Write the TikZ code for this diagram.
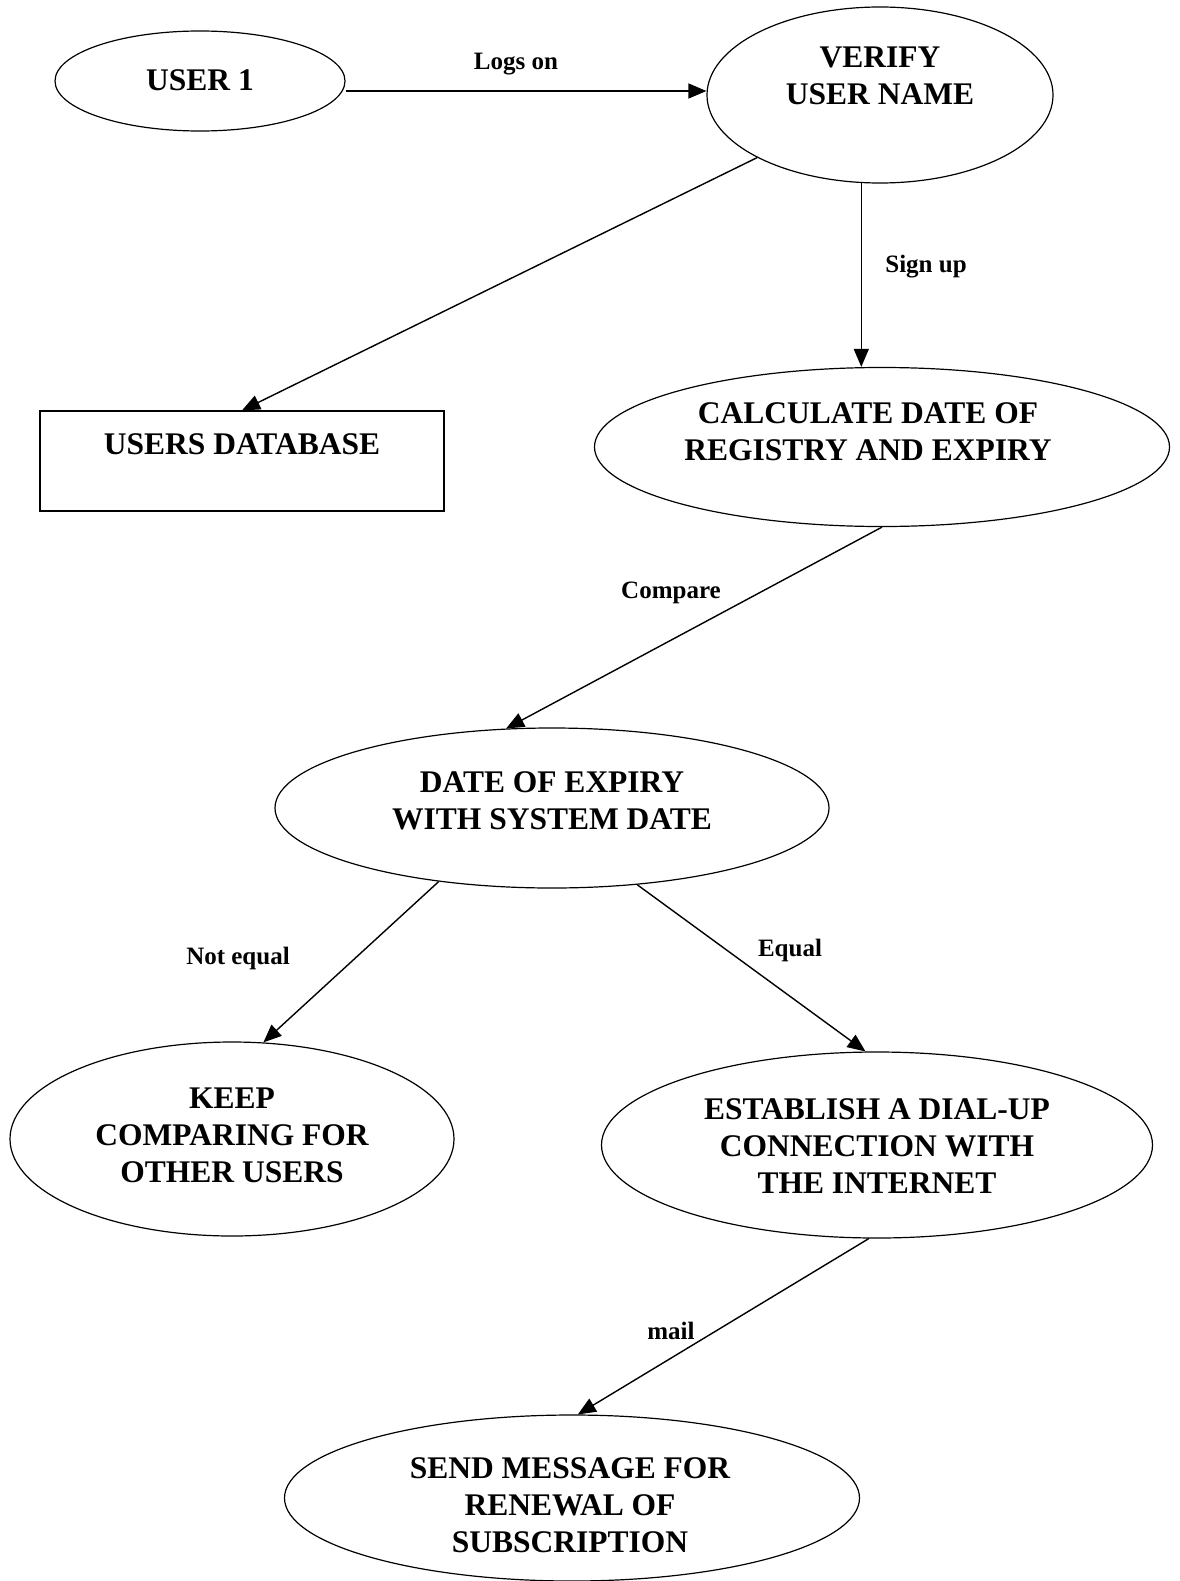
\documentclass[tikz,border=0pt]{standalone}
\usepackage{fontspec}
\setmainfont{Liberation Serif}
\usetikzlibrary{shapes.geometric,arrows.meta}
\begin{document}
\begin{tikzpicture}[x=1pt,y=-1pt,
  proc/.style={ellipse, draw, line width=1.2pt, inner sep=0pt},
  store/.style={rectangle, draw, line width=1.2pt, inner sep=0pt},
  txt/.style={align=center, inner sep=0pt, font=\fontsize{31.5}{37}\selectfont\bfseries},
  lbl/.style={anchor=base, inner sep=0pt, font=\fontsize{25}{30}\selectfont\bfseries},
  flow/.style={line width=1.4pt, -{Triangle[length=18pt,width=15pt]}},
  plain/.style={line width=1.4pt}]
\useasboundingbox (0,0) rectangle (1179,1581);
% shapes
\node[proc, minimum width=290pt, minimum height=100pt] (user) at (200,81) {};
\node[proc, minimum width=346pt, minimum height=176pt] (verify) at (880,95) {};
\node[store, minimum width=404pt, minimum height=100pt] (db) at (242,461) {};
\node[proc, minimum width=575pt, minimum height=159pt] (calc) at (882,447) {};
\node[proc, minimum width=554pt, minimum height=160pt] (date) at (552,808) {};
\node[proc, minimum width=444pt, minimum height=194pt] (keep) at (232,1139) {};
\node[proc, minimum width=551pt, minimum height=186pt] (estab) at (877,1145) {};
\node[proc, minimum width=575pt, minimum height=166pt] (send) at (572,1498) {};
% texts
\node[txt] (userT) at (200,80) {USER 1};
\node[txt] (verifyT) at (880,76) {VERIFY\\USER NAME};
\node[txt] (dbT) at (242,444) {USERS DATABASE};
\node[txt] (calcT) at (868,432) {CALCULATE DATE OF\\REGISTRY AND EXPIRY};
\node[txt] (dateT) at (552,801) {DATE OF EXPIRY\\WITH SYSTEM DATE};
\node[txt] (keepT) at (232,1135) {KEEP\\COMPARING FOR\\OTHER USERS};
\node[txt] (estabT) at (877,1146) {ESTABLISH A DIAL-UP\\CONNECTION WITH\\THE INTERNET};
\node[txt] (sendT) at (570,1505) {SEND MESSAGE FOR\\RENEWAL OF\\SUBSCRIPTION};
% connectors
\coordinate (uStart) at (user.east |- 0,91);
\coordinate (vEnd) at (verify.west |- 0,91);
\draw[flow] (uStart) -- (vEnd);
\draw[flow] (verify.207) -- (db.north);
\draw[flow] (verify.258) -- (verify.258 |- calc.north);
\draw[flow] (calc.south) -- (date.120);
\draw[flow] (date.213) -- (keep.72);
\draw[flow] (date.-42) -- (estab.97);
\draw[flow] (estab.265) -- (send.86);
% labels
\node[lbl] (l1) at (516,70) {Logs on};
\node[lbl] (l2) at (926,272) {Sign up};
\node[lbl] (l3) at (671,598) {Compare};
\node[lbl] (l4) at (238,964) {Not equal};
\node[lbl] (l5) at (790,956) {Equal};
\node[lbl] (l6) at (671,1339) {mail};
\end{tikzpicture}
\end{document}
